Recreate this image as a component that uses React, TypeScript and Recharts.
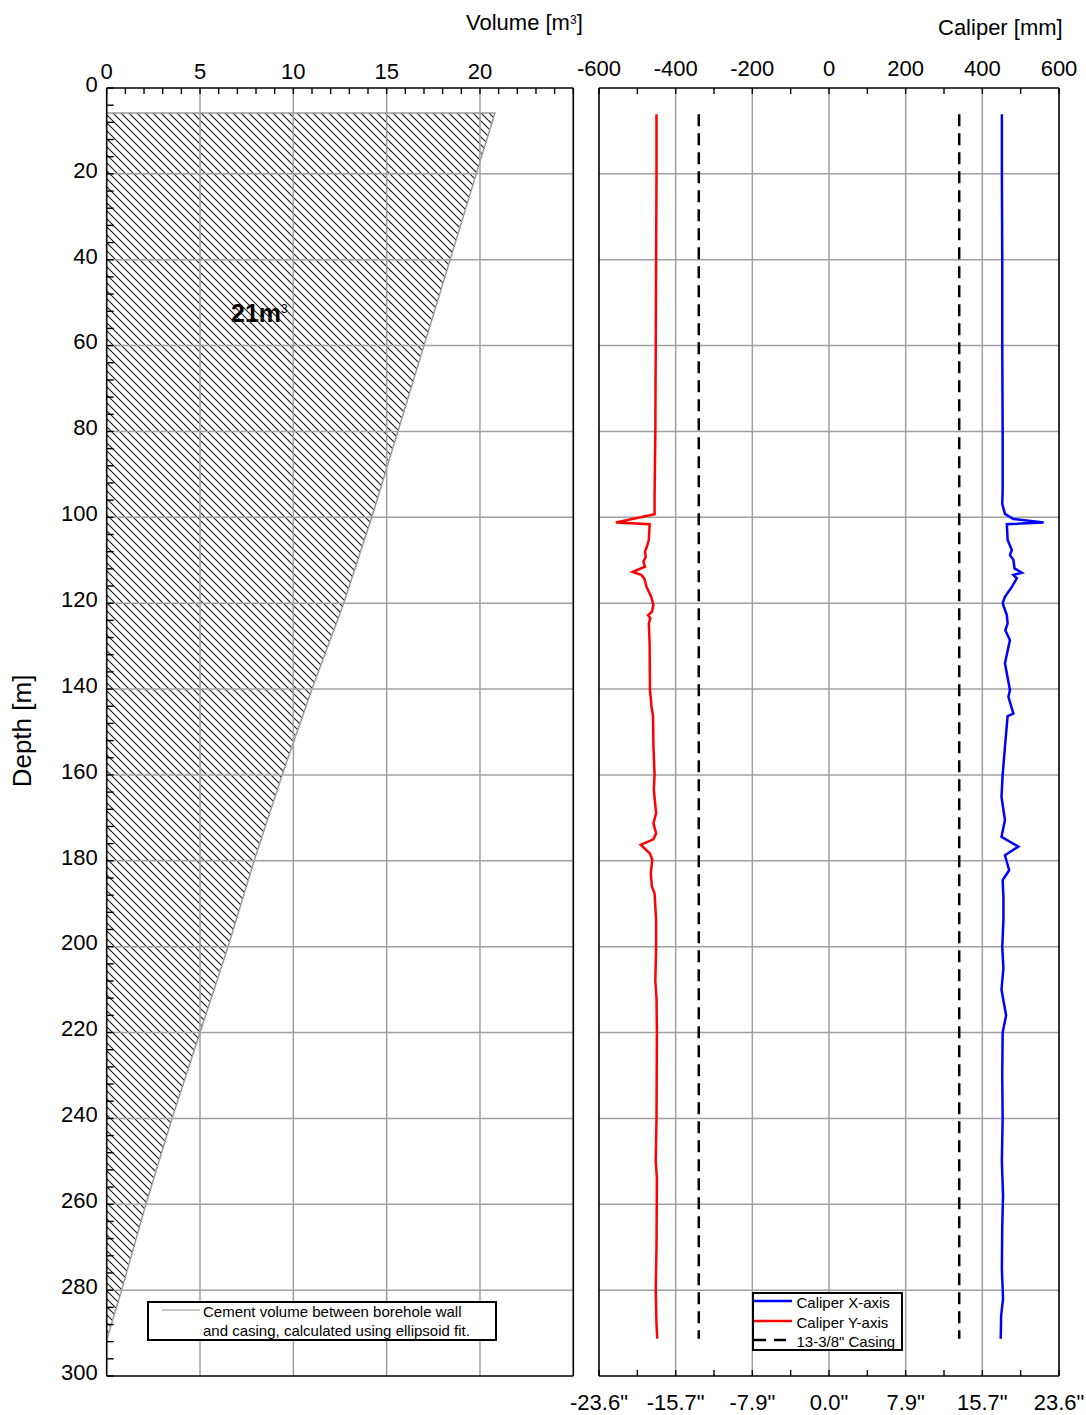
import React from 'react';
import { ComposedChart, Area, Line, XAxis, YAxis, ReferenceLine } from 'recharts';

const FONT = '"Liberation Sans", Arial, Helvetica, sans-serif';

// depth axis (m), shared by both panels
const depthMajorTicks = [0, 20, 40, 60, 80, 100, 120, 140, 160, 180, 200, 220, 240, 260, 280, 300];
const depthMinorTicks = [
  0, 4, 8, 12, 16, 20, 24, 28, 32, 36, 40, 44, 48, 52, 56, 60, 64, 68, 72, 76, 80, 84, 88, 92, 96,
  100, 104, 108, 112, 116, 120, 124, 128, 132, 136, 140, 144, 148, 152, 156, 160, 164, 168, 172, 176,
  180, 184, 188, 192, 196, 200, 204, 208, 212, 216, 220, 224, 228, 232, 236, 240, 244, 248, 252, 256,
  260, 264, 268, 272, 276, 280, 284, 288, 292, 296, 300,
];
const depthGrid = [20, 40, 60, 80, 100, 120, 140, 160, 180, 200, 220, 240, 260, 280];

// cement volume panel (m3)
const volumeTicks = [0, 1, 2, 3, 4, 5, 6, 7, 8, 9, 10, 11, 12, 13, 14, 15, 16, 17, 18, 19, 20, 21, 22, 23, 24, 25];
const volumeLabelled = [0, 5, 10, 15, 20];
const volumeGrid = [5, 10, 15, 20];
const volumeDepth = [5.8, 5.8, 20, 40, 60, 80, 100, 120, 140, 160, 180, 200, 220, 240, 260, 280, 291.6];
const volumeM3 = [0, 20.8, 19.8, 18.4, 17.0, 15.6, 14.2, 12.7, 11.0, 9.4, 7.9, 6.5, 5.0, 3.5, 2.1, 0.8, 0];

// caliper panel (mm)
const caliperTicks = [-600, -500, -400, -300, -200, -100, 0, 100, 200, 300, 400, 500, 600];
const caliperLabelled = [-600, -400, -200, 0, 200, 400, 600];
const caliperGrid = [-400, -200, 0, 200, 400];

const caliperXDepth = [
  6.1, 20, 40, 60, 80, 93.6, 96.9, 99.2, 100.4, 101.2, 101.6, 105.3, 107.6, 108.8, 109.9, 111.9, 112.9,
  113.4, 114.2, 116.2, 118.5, 120, 122.8, 124.7, 126.3, 128.6, 134, 140.2, 141.8, 145.7, 146.3, 153.4,
  160, 165.1, 170.5, 174.4, 176.7, 178.7, 182.2, 184.5, 188.4, 193.8, 200, 205, 210, 216, 220, 230, 240,
  250, 258, 265, 275, 282, 286, 291.3,
];
const caliperX = [
  451, 451, 452, 452, 453, 453, 452, 459, 481, 560, 464, 466, 477, 472, 481, 484, 503,
  481, 490, 477, 459, 453, 464, 466, 460, 472, 459, 472, 468, 481, 466, 459,
  453, 450, 459, 450, 494, 459, 470, 453, 455, 455, 452, 455, 450, 462, 453, 452, 453,
  451, 454, 452, 451, 454, 449, 448,
];

const caliperYDepth = [
  6.1, 20, 40, 60, 80, 95, 99.3, 101.2, 101.6, 105.3, 106.8, 108, 109.2, 110.3, 111.5, 112.7, 113.4,
  114.2, 116.2, 118.5, 120.4, 122, 122.8, 123.5, 124.7, 129.4, 140.2, 144.1, 146.4, 153.4, 160, 163.5,
  168.9, 171.3, 173.6, 175, 176.3, 178.3, 179.8, 182.9, 186, 187.6, 193.8, 200, 208, 212, 220, 240,
  250, 254, 270, 280, 288, 291.3,
];
const caliperY = [
  -450, -450, -451, -452, -453, -455, -455, -556, -468, -470, -475, -480, -478, -484, -480, -512, -490,
  -482, -476, -464, -458, -462, -472, -466, -470, -468, -467, -463, -459, -458, -455, -457,
  -451, -458, -451, -458, -491, -467, -461, -465, -462, -455, -451, -451, -453, -450, -449, -450,
  -452, -449, -450, -452, -450, -448,
];

const casingDepth = [6.1, 291.3];
const casingMm = 339.7;

const tickStyle = { fill: '#000', fontSize: 22, fontFamily: FONT };
const axisLineStyle = { stroke: '#000', strokeWidth: 1.6 };
const tickLineStyle = { stroke: '#000', strokeWidth: 1.4 };
const GRID = '#a0a0a0';

const inch = (mm: number) => `${(mm / 25.4).toFixed(1)}"`;

function VolumePanel() {
  const data = volumeDepth.map((d, i) => ({ depth: d, vol: volumeM3[i] }));
  return (
    <div style={{ position: 'absolute', left: 0, top: 0 }}>
      <ComposedChart
        layout="vertical"
        width={600}
        height={1415}
        data={data}
        margin={{ top: 58, right: 6.7, bottom: 9, left: 46.7 }}
      >
        <defs>
          <pattern id="hatch" patternUnits="userSpaceOnUse" width={8} height={8}>
            <path d="M-2,6 l4,4 M0,0 l8,8 M6,-2 l4,4" stroke="#111" strokeWidth={1.05} />
          </pattern>
        </defs>
        <XAxis
          xAxisId="top" orientation="top" type="number" domain={[0, 25]} allowDataOverflow
          ticks={volumeTicks} interval={0} height={30} tickSize={-6} tickMargin={15}
          tickFormatter={v => (volumeLabelled.includes(v) ? String(v) : '')}
          tick={tickStyle} axisLine={axisLineStyle} tickLine={tickLineStyle}
        />
        <XAxis
          xAxisId="bottom" orientation="bottom" type="number" domain={[0, 25]} allowDataOverflow
          ticks={volumeTicks} interval={0} height={30} tickSize={-6} tick={false}
          axisLine={axisLineStyle} tickLine={tickLineStyle}
        />
        <YAxis
          yAxisId="depth" orientation="left" type="number" dataKey="depth" domain={[0, 300]} allowDataOverflow
          ticks={depthMinorTicks} interval={0} width={60} tickSize={-7} tickMargin={16}
          tickFormatter={v => (depthMajorTicks.includes(v) ? String(v) : '')}
          tick={{ ...tickStyle, dy: -4 }} axisLine={axisLineStyle} tickLine={tickLineStyle}
        />
        <YAxis
          yAxisId="depthR" orientation="right" type="number" dataKey="depth" domain={[0, 300]} allowDataOverflow
          ticks={depthMinorTicks} interval={0} width={20} tickSize={-7} tick={false}
          axisLine={axisLineStyle} tickLine={tickLineStyle}
        />
        <Area
          xAxisId="top" yAxisId="depth" dataKey="vol" type="linear"
          stroke="#9a9a9a" strokeWidth={1.5} fill="url(#hatch)" fillOpacity={1}
          dot={false} activeDot={false} isAnimationActive={false}
        />
        {volumeGrid.map(v => (
          <ReferenceLine key={`vx${v}`} xAxisId="top" yAxisId="depth" x={v} stroke={GRID} strokeWidth={1.5} />
        ))}
        {depthGrid.map(d => (
          <ReferenceLine key={`vy${d}`} xAxisId="top" yAxisId="depth" y={d} stroke={GRID} strokeWidth={1.5} />
        ))}
      </ComposedChart>
    </div>
  );
}

function CaliperPanel() {
  const xData = caliperXDepth.map((d, i) => ({ depth: d, cx: caliperX[i] }));
  const yData = caliperYDepth.map((d, i) => ({ depth: d, cy: caliperY[i] }));
  const casing = casingDepth.map(d => ({ depth: d, left: -casingMm, right: casingMm }));
  return (
    <div style={{ position: 'absolute', left: 560, top: 0 }}>
      <ComposedChart
        layout="vertical"
        width={526}
        height={1415}
        margin={{ top: 58, right: 7, bottom: 9, left: 19 }}
      >
        <XAxis
          xAxisId="top" orientation="top" type="number" domain={[-600, 600]} allowDataOverflow
          ticks={caliperTicks} interval={0} height={30} tickSize={-6} tickMargin={18}
          tickFormatter={v => (caliperLabelled.includes(v) ? String(v) : '')}
          tick={tickStyle} axisLine={axisLineStyle} tickLine={tickLineStyle}
        />
        <XAxis
          xAxisId="bottom" orientation="bottom" type="number" domain={[-600, 600]} allowDataOverflow
          ticks={caliperTicks} interval={0} height={30} tickSize={-6} tickMargin={24}
          tickFormatter={v => (caliperLabelled.includes(v) ? inch(v) : '')}
          tick={tickStyle} axisLine={axisLineStyle} tickLine={tickLineStyle}
        />
        <YAxis
          yAxisId="depth" orientation="left" type="number" dataKey="depth" domain={[0, 300]} allowDataOverflow
          ticks={depthMinorTicks} interval={0} width={20} tickSize={-7} tick={false}
          axisLine={axisLineStyle} tickLine={tickLineStyle}
        />
        <YAxis
          yAxisId="depthR" orientation="right" type="number" dataKey="depth" domain={[0, 300]} allowDataOverflow
          ticks={depthMinorTicks} interval={0} width={20} tickSize={-7} tick={false}
          axisLine={axisLineStyle} tickLine={tickLineStyle}
        />
        {caliperGrid.map(v => (
          <ReferenceLine key={`cx${v}`} xAxisId="top" yAxisId="depth" x={v} stroke={GRID} strokeWidth={1.5} />
        ))}
        {depthGrid.map(d => (
          <ReferenceLine key={`cy${d}`} xAxisId="top" yAxisId="depth" y={d} stroke={GRID} strokeWidth={1.5} />
        ))}
        <Line
          data={casing} xAxisId="top" yAxisId="depth" dataKey="left" type="linear"
          stroke="#000" strokeWidth={2.5} strokeDasharray="12 7" dot={false} activeDot={false} isAnimationActive={false}
        />
        <Line
          data={casing} xAxisId="top" yAxisId="depth" dataKey="right" type="linear"
          stroke="#000" strokeWidth={2.5} strokeDasharray="12 7" dot={false} activeDot={false} isAnimationActive={false}
        />
        <Line
          data={yData} xAxisId="top" yAxisId="depth" dataKey="cy" type="linear"
          stroke="#ff0000" strokeWidth={2.5} dot={false} activeDot={false} isAnimationActive={false}
        />
        <Line
          data={xData} xAxisId="top" yAxisId="depth" dataKey="cx" type="linear"
          stroke="#0000ff" strokeWidth={2.5} dot={false} activeDot={false} isAnimationActive={false}
        />
      </ComposedChart>
    </div>
  );
}

function LegendSample({ color, width = 1, dash }: { color: string; width?: number; dash?: string }) {
  return (
    <svg width={38} height={6} style={{ display: 'block' }}>
      <line x1={0} y1={3} x2={38} y2={3} stroke={color} strokeWidth={width} strokeDasharray={dash} />
    </svg>
  );
}

export default function App() {
  return (
    <div style={{ position: 'absolute', left: 0, top: 0, width: 1086, height: 1415, background: '#fff', fontFamily: FONT, color: '#000' }}>
      <VolumePanel />
      <CaliperPanel />

      <div style={{ position: 'absolute', left: 466, top: 12, fontSize: 22, lineHeight: '22px', whiteSpace: 'nowrap' }}>
        Volume [m<sup style={{ fontSize: 12, verticalAlign: 'top', position: 'relative', top: -3 }}>3</sup>]
      </div>
      <div style={{ position: 'absolute', left: 938, top: 17, fontSize: 22, lineHeight: '22px', whiteSpace: 'nowrap' }}>
        Caliper [mm]
      </div>
      <div style={{
        position: 'absolute', left: 22, top: 731, fontSize: 26, lineHeight: '26px', whiteSpace: 'nowrap',
        transform: 'translate(-50%, -50%) rotate(-90deg)',
      }}>
        Depth [m]
      </div>

      <div style={{ position: 'absolute', left: 231, top: 301, fontSize: 25, lineHeight: '25px', fontWeight: 700, whiteSpace: 'nowrap' }}>
        21m<sup style={{ fontSize: 12, fontWeight: 400, verticalAlign: 'top', position: 'relative', top: -4 }}>3</sup>
      </div>

      {/* cement volume legend */}
      <div style={{ position: 'absolute', left: 147, top: 1301, width: 350, height: 40, border: '2px solid #000', boxSizing: 'border-box', background: '#fff' }}>
        <div style={{ position: 'absolute', left: 13, top: 4 }}>
          <LegendSample color="#8c8c8c" width={1} />
        </div>
        <div style={{ position: 'absolute', left: 54, top: -1, fontSize: 15, lineHeight: '19px', whiteSpace: 'nowrap' }}>
          Cement volume between borehole wall<br />and casing, calculated using ellipsoid fit.
        </div>
      </div>

      {/* caliper legend */}
      <div style={{ position: 'absolute', left: 752, top: 1292, width: 151, height: 59, border: '2px solid #000', boxSizing: 'border-box', background: '#fff' }}>
        <div style={{ position: 'absolute', left: 0, top: 4 }}><LegendSample color="#0000ff" width={2.5} /></div>
        <div style={{ position: 'absolute', left: 0, top: 23.5 }}><LegendSample color="#ff0000" width={2.5} /></div>
        <div style={{ position: 'absolute', left: 0, top: 43 }}><LegendSample color="#000" width={2.5} dash="12 8" /></div>
        <div style={{ position: 'absolute', left: 42.5, top: -1, fontSize: 15, lineHeight: '19.5px', whiteSpace: 'nowrap' }}>
          Caliper X-axis<br />Caliper Y-axis<br />13-3/8" Casing
        </div>
      </div>
    </div>
  );
}
